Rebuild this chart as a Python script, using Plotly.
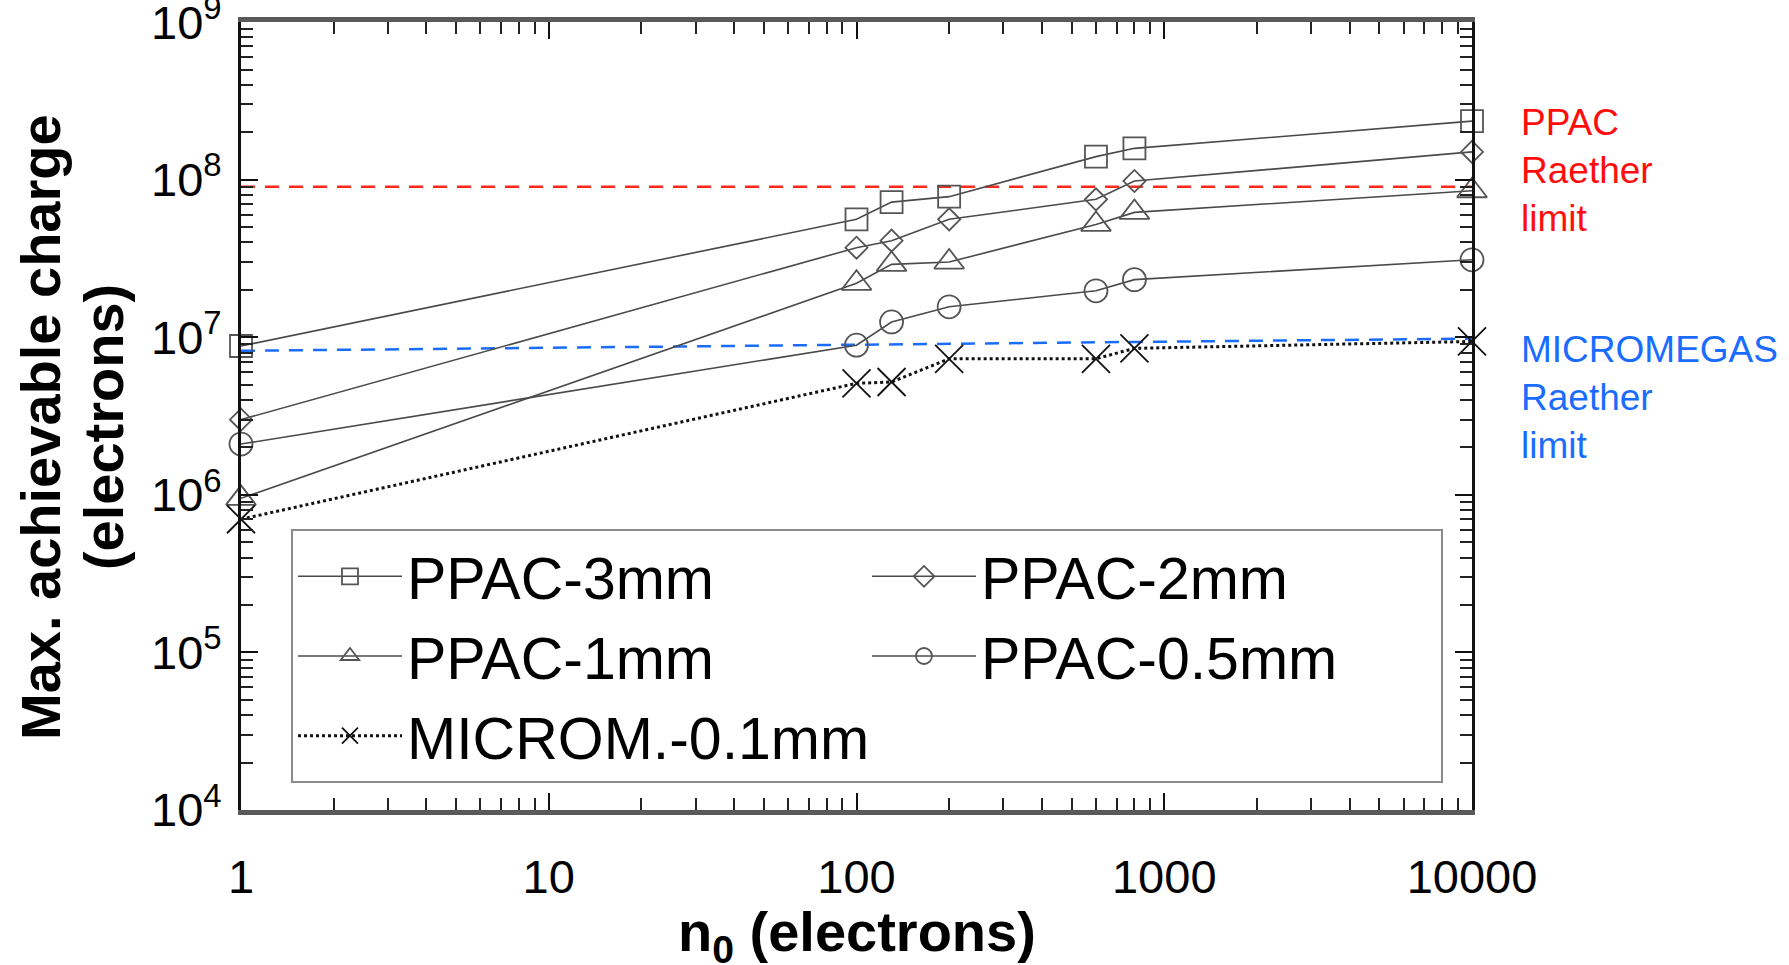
import plotly.graph_objects as go

# ---- data ----
n0 = [1, 100, 130, 200, 600, 800, 10000]
ppac_3mm = [8.8e6, 5.6e7, 7.2e7, 7.8e7, 1.4e8, 1.58e8, 2.35e8]
ppac_2mm = [3.0e6, 3.7e7, 4.1e7, 5.6e7, 7.5e7, 9.8e7, 1.5e8]
ppac_1mm = [9.5e5, 2.2e7, 2.9e7, 3.0e7, 5.2e7, 6.2e7, 8.5e7]
ppac_05mm = [2.1e6, 8.9e6, 1.25e7, 1.56e7, 1.97e7, 2.32e7, 3.1e7]
microm_01mm = [7.0e5, 5.1e6, 5.2e6, 7.3e6, 7.3e6, 8.5e6, 9.4e6]

limit_x = [1, 10000]
ppac_limit = [9.0e7, 9.0e7]
microm_limit = [8.2e6, 9.8e6]

x_tickvals = [1, 10, 100, 1000, 10000]
x_ticktext = ["1", "10", "100", "1000", "10000"]
y_tickvals = [1e4, 1e5, 1e6, 1e7, 1e8, 1e9]
y_ticktext = ["10<sup>4</sup>", "10<sup>5</sup>", "10<sup>6</sup>",
              "10<sup>7</sup>", "10<sup>8</sup>", "10<sup>9</sup>"]

FONT = "Liberation Sans, Arial, Helvetica, sans-serif"
LINE_C = "#4a4a4a"
MARK_C = "#555555"

fig = go.Figure()

# Raether limits
fig.add_trace(go.Scatter(x=limit_x, y=ppac_limit, mode="lines", showlegend=False,
                         line=dict(color="#ff2a1a", width=2.5, dash="14px,10px"),
                         hoverinfo="skip"))
fig.add_trace(go.Scatter(x=limit_x, y=microm_limit, mode="lines", showlegend=False,
                         line=dict(color="#1a6cff", width=2.5, dash="14px,10px"),
                         hoverinfo="skip"))

series = [
    ("PPAC-3mm", ppac_3mm, "square-open", 22, "solid", LINE_C, 1.6),
    ("PPAC-2mm", ppac_2mm, "diamond-open", 17, "solid", LINE_C, 1.6),
    ("PPAC-1mm", ppac_1mm, "triangle-up-open", 26, "solid", LINE_C, 1.6),
    ("PPAC-0.5mm", ppac_05mm, "circle-open", 23, "solid", LINE_C, 1.6),
    ("MICROM.-0.1mm", microm_01mm, "x-thin-open", 28, "dot", "#111111", 3),
]
for name, ys, sym, size, dash, lc, lw in series:
    mc = "#111111" if sym.startswith("x") else MARK_C
    fig.add_trace(go.Scatter(
        x=n0, y=ys, name=name, mode="lines+markers", cliponaxis=False,
        line=dict(color=lc, width=lw, dash=dash),
        marker=dict(symbol=sym, size=size, color=mc,
                    line=dict(color=mc, width=1.8)),
    ))

fig.update_layout(
    width=1789, height=965,
    margin=dict(l=241, r=317, t=22, b=155, autoexpand=False),
    paper_bgcolor="white", plot_bgcolor="white",
    font=dict(family=FONT, color="black"),
    showlegend=True,
    legend=dict(
        orientation="h", x=0.0406, y=0.356, xanchor="left", yanchor="top",
        entrywidth=455, entrywidthmode="pixels", itemwidth=104,
        font=dict(family=FONT, size=59, color="black"),
        bgcolor="white", bordercolor="#8a8a8a", borderwidth=2,
        traceorder="normal",
    ),
)

fig.update_xaxes(
    type="log", range=[0, 4], automargin=False,
    tickmode="array", tickvals=x_tickvals, ticktext=x_ticktext,
    tickfont=dict(family=FONT, size=47, color="black"),
    ticks="inside", ticklen=17, tickwidth=2, tickcolor="#111",
    minor=dict(ticks="inside", ticklen=12, tickwidth=2, tickcolor="#222",
               dtick="D1", showgrid=False),
    showgrid=False, zeroline=False,
    showline=True, linewidth=5, linecolor="#5a5a5a", mirror="ticks",
    ticklabelstandoff=22, ticklabeloverflow="allow",
)
fig.update_yaxes(
    type="log", range=[4, 9.0004], automargin=False,
    tickmode="array", tickvals=y_tickvals, ticktext=y_ticktext,
    tickfont=dict(family=FONT, size=47, color="black"),
    ticks="inside", ticklen=17, tickwidth=2, tickcolor="#111",
    minor=dict(ticks="inside", ticklen=12, tickwidth=2, tickcolor="#222",
               dtick="D1", showgrid=False),
    showgrid=False, zeroline=False,
    showline=True, linewidth=3, linecolor="#111", mirror="ticks",
    ticklabelstandoff=7, ticklabeloverflow="allow",
)

# axis titles
fig.add_annotation(x=0.5, y=-0.159, xref="paper", yref="paper",
                   xanchor="center", yanchor="middle", showarrow=False,
                   text="<b>n<sub>0</sub> (electrons)</b>",
                   font=dict(family=FONT, size=56, color="black"))
fig.add_annotation(x=-0.1633, y=0.486, xref="paper", yref="paper",
                   xanchor="center", yanchor="middle", showarrow=False,
                   textangle=-90, text="<b>Max. achievable charge</b>",
                   font=dict(family=FONT, size=56, color="black"))
fig.add_annotation(x=-0.1121, y=0.486, xref="paper", yref="paper",
                   xanchor="center", yanchor="middle", showarrow=False,
                   textangle=-90, text="<b>(electrons)</b>",
                   font=dict(family=FONT, size=56, color="black"))

# limit labels
fig.add_annotation(x=1.038, y=0.811, xref="paper", yref="paper",
                   xanchor="left", yanchor="middle", align="left", showarrow=False,
                   text="PPAC<br>Raether<br>limit",
                   font=dict(family=FONT, size=37, color="#ff0d0d"))
fig.add_annotation(x=1.038, y=0.523, xref="paper", yref="paper",
                   xanchor="left", yanchor="middle", align="left", showarrow=False,
                   text="MICROMEGAS<br>Raether<br>limit",
                   font=dict(family=FONT, size=37, color="#1a6cff"))

fig.write_html("out.html")
